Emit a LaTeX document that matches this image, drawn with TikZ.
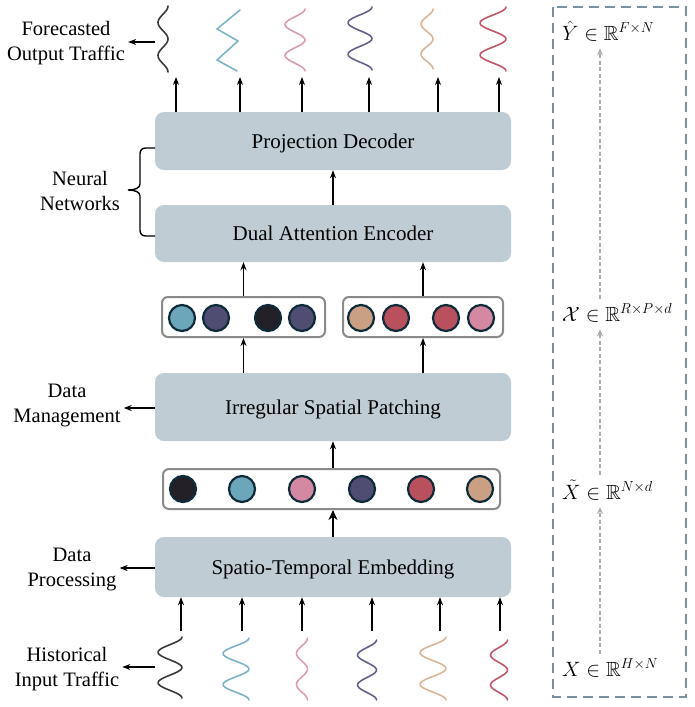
\documentclass[tikz,border=0pt]{standalone}
\usepackage{fontspec}
\usepackage{amssymb}
\setmainfont{Liberation Serif}
\usetikzlibrary{arrows.meta,calc}
\definecolor{boxc}{HTML}{BFCCD3}
\definecolor{grpc}{HTML}{8A8A8A}
\definecolor{dotb}{HTML}{0F2A38}
\definecolor{dashc}{HTML}{7890A0}
\definecolor{cK}{HTML}{221F27}
\definecolor{cT}{HTML}{6BA6BA}
\definecolor{cP}{HTML}{D488A1}
\definecolor{cU}{HTML}{504D73}
\definecolor{cR}{HTML}{B9505D}
\definecolor{cN}{HTML}{C9A084}
\definecolor{wK}{HTML}{3A3A3A}
\definecolor{wT}{HTML}{7DB4C5}
\definecolor{wP}{HTML}{DE9DB2}
\definecolor{wU}{HTML}{62628A}
\definecolor{wN}{HTML}{D8B699}
\definecolor{wR}{HTML}{C2566A}
\tikzset{
  blk/.style={rounded corners=9pt, fill=boxc, minimum width=356pt, inner sep=0pt, text depth=0pt, font=\fontsize{21}{25}\selectfont},
  grp/.style={draw=grpc, line width=2pt, rounded corners=6pt, inner sep=0pt, minimum height=40pt},
  dot/.style={circle, draw=dotb, line width=2.2pt, minimum size=26pt, inner sep=0pt},
  arr/.style={-{Stealth[length=8pt,width=6pt]}, line width=1.2pt},
  barr/.style={-{Stealth[length=10pt,width=9pt]}, line width=1.4pt},
  garr/.style={-{Stealth[length=7pt,width=6pt]}, line width=1.3pt, draw=gray!65, dash pattern=on 4pt off 2.5pt, shorten <=5pt, shorten >=7pt},
  lab/.style={align=center, font=\fontsize{20.5}{25}\selectfont, inner sep=0pt},
  mth/.style={anchor=west, font=\fontsize{20.5}{24}\selectfont, inner sep=0pt},
  wv/.style={line width=1.6pt, line cap=round, line join=round},
}
\begin{document}
\begin{tikzpicture}[x=1pt,y=-1pt]
\useasboundingbox (0,0) rectangle (695,707);
% main blocks
\node[blk, minimum height=58pt] (PD) at (333,141) {Projection Decoder};
\node[blk, minimum height=57pt] (DAE) at (333,233.5) {Dual Attention Encoder};
\node[blk, minimum height=68pt] (ISP) at (333,407) {Irregular Spatial Patching};
\node[blk, minimum height=60pt] (STE) at (333,567) {Spatio-Temporal Embedding};
% groups
\node[grp, minimum width=163pt] (gL) at (243.5,317) {};
\node[grp, minimum width=160pt] (gR) at (423,317) {};
\node[grp, minimum width=337pt] (gB) at (331.5,489) {};
% dots
\node[dot, fill=cT] (l1) at (182,318) {};
\node[dot, fill=cU] (l2) at (216,318) {};
\node[dot, fill=cK] (l3) at (268,318) {};
\node[dot, fill=cU] (l4) at (302,318) {};
\node[dot, fill=cN] (r1) at (361,318) {};
\node[dot, fill=cR] (r2) at (396,318) {};
\node[dot, fill=cR] (r3) at (446,318) {};
\node[dot, fill=cP] (r4) at (481,318) {};
\node[dot, fill=cK] (b1) at (183,489) {};
\node[dot, fill=cT] (b2) at (242,489) {};
\node[dot, fill=cP] (b3) at (302,489) {};
\node[dot, fill=cU] (b4) at (362,489) {};
\node[dot, fill=cR] (b5) at (421,489) {};
\node[dot, fill=cN] (b6) at (480,489) {};
% inner arrows
\draw[arr] (DAE.north) -- (PD.south);
\draw[arr] (gL.north) -- (gL.north |- DAE.south);
\draw[arr] (gR.north) -- (gR.north |- DAE.south);
\draw[arr] (gL.south |- ISP.north) -- (gL.south);
\draw[arr] (gR.south |- ISP.north) -- (gR.south);
\draw[arr] (gB.north -| ISP.south) -- (ISP.south);
\draw[barr] (STE.north) -- (STE.north |- gB.south);
% output waves and arrows
\foreach \i/\x in {1/176,2/240,3/302,4/369,5/438,6/499}{
  \coordinate (o\i) at (\x,77);
  \draw[arr] (PD.north -| o\i) -- (o\i);
}
\foreach \i/\x in {1/181,2/242,3/302,4/372,5/440,6/500}{
  \coordinate (i\i) at (\x,631);
  \draw[arr] (i\i) -- (i\i |- STE.south);
}
% top waves
\draw[wv, wK] plot[smooth, domain=0:1, samples=41, variable=\t] ({163+5*cos(720*\t)}, {6+66*\t});
\draw[wv, wT] (240,10) -- (217,29) -- (238,41) -- (217,60) -- (237,71);
\draw[wv, wP] plot[smooth, domain=0:1, samples=41, variable=\t] ({295+10*cos(720*\t)}, {9+62*\t});
\draw[wv, wU] plot[smooth, domain=0:1, samples=41, variable=\t] ({360+12*cos(720*\t)}, {7+63*\t});
\draw[wv, wN] plot[smooth, domain=0:1, samples=41, variable=\t] ({427+6*cos(720*\t)}, {9+60*\t});
\draw[wv, wR] plot[smooth, domain=0:1, samples=41, variable=\t] ({493+13*cos(720*\t)}, {7+64*\t});
% bottom waves
\draw[wv, wK] plot[smooth, domain=0:1, samples=41, variable=\t] ({170+12*cos(720*\t)}, {637+61*\t});
\draw[wv, wT] plot[smooth, domain=0:1, samples=41, variable=\t] ({236+13*cos(720*\t)}, {638+62*\t});
\draw[wv, wP] plot[smooth, domain=0:1, samples=41, variable=\t] ({302+5.5*cos(720*\t)}, {638+62*\t});
\draw[wv, wU] plot[smooth, domain=0:1, samples=41, variable=\t] ({367+9.5*cos(720*\t)}, {640+60*\t});
\draw[wv, wN] plot[smooth, domain=0:1, samples=41, variable=\t] ({433+13*cos(720*\t)}, {637+63*\t});
\draw[wv, wR] plot[smooth, domain=0:1, samples=41, variable=\t] ({499+8.5*cos(720*\t)}, {640+60*\t});
% left labels
\node[lab] (fo) at (66,43) {Forecasted\\Output Traffic};
\node[lab] (nn) at (80,191) {Neural\\Networks};
\node[lab] (dm) at (67,405) {Data\\Management};
\node[lab] (dp) at (72,569.5) {Data\\Processing};
\node[lab] (hi) at (67,669.5) {Historical\\Input Traffic};
\coordinate (fa) at (155,42);
\coordinate (ma) at (PD.west |- 0,408);
\coordinate (pa) at (PD.west |- 0,568);
\coordinate (ha) at (155,667);
\draw[arr] (fa) -- ($(fa -| fo.east)+(3,0)$);
\draw[arr] (ma) -- ($(ma -| dm.east)+(3,0)$);
\draw[arr] (pa) -- ($(pa -| dp.east)+(3,0)$);
\draw[arr] (ha) -- ($(ha -| hi.east)+(3,0)$);
% brace
\draw[line width=1.4pt] (155,148) -- (146,148) .. controls (142,148) and (140,150) .. (140,154) -- (140,184) .. controls (140,188) and (135,190) .. (128,190) .. controls (135,190) and (140,192) .. (140,196) -- (140,230) .. controls (140,234) and (142,236) .. (146,236) -- (155,236);
% right dashed panel
\draw[dashc, line width=2.4pt, dash pattern=on 10pt off 6pt] (553,7) rectangle (686,697);
\node[mth] (m4) at (562,31) {$\hat{Y}\in\mathbb{R}^{F\times N}$};
\node[mth] (m3) at (562,313) {$\mathcal{X}\in\mathbb{R}^{R\times P\times d}$};
\node[mth] (m2) at (562,490) {$\tilde{X}\in\mathbb{R}^{N\times d}$};
\node[mth] (m1) at (562,668) {$X\in\mathbb{R}^{H\times N}$};
\draw[garr] (m1.north -| 600,0) -- (m2.south -| 600,0);
\draw[garr] (m2.north -| 600,0) -- (m3.south -| 600,0);
\draw[garr] (m3.north -| 600,0) -- (m4.south -| 600,0);
\end{tikzpicture}
\end{document}
